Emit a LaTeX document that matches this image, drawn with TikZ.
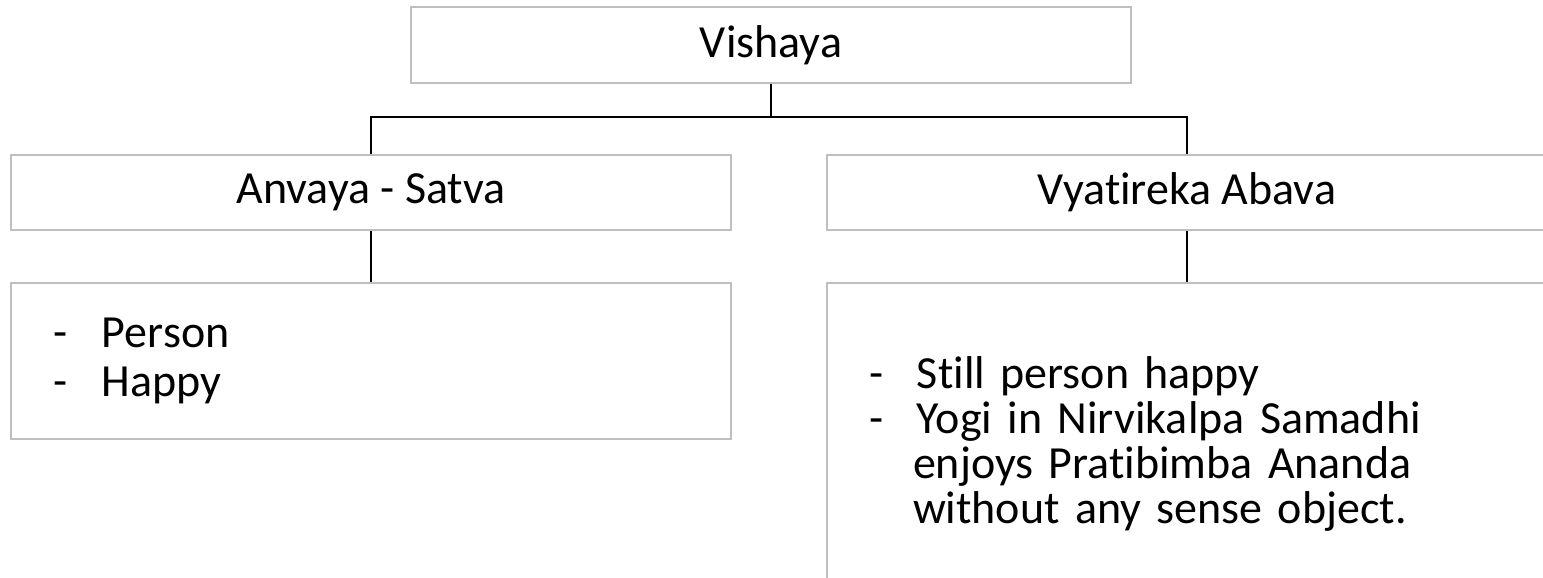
\documentclass[tikz,border=0pt]{standalone}
\usepackage{fontspec}
\setmainfont{Carlito}[Ligatures=NoCommon]
\definecolor{boxgray}{HTML}{BFBFBF}
\tikzset{
  box/.style={draw=boxgray, line width=1.5pt, minimum width=720pt, inner sep=0pt,
    font=\fontsize{46}{45}\selectfont},
  listbox/.style={box, align=left, text width=636pt, inner xsep=42pt},
  link/.style={draw=black, line width=2pt}
}
\begin{document}
\begin{tikzpicture}[x=1pt, y=-1pt]
  \useasboundingbox (0,0) rectangle (1543,578);
  \node[box, minimum height=76pt] (vishaya) at (771,45) {Vishaya};
  \node[box, minimum height=75pt] (anvaya) at (371,192.5) {Anvaya - Satva};
  \node[box, minimum height=75pt] (vyatireka) at (1187,192.5) {Vyatireka Abava};
  % lists
  \node[listbox, minimum height=156pt, font=\fontsize{46}{49}\selectfont] (anvayalist) at (371,361)
    {\makebox[49pt][l]{-}Person\\ \makebox[49pt][l]{-}Happy};
  \node[listbox, minimum height=321pt] (vyatirekalist) at (1187,443.5)
    {\makebox[48pt][l]{-}Still person happy\\
     \makebox[48pt][l]{-}Yogi in Nirvikalpa Samadhi\\
     \hspace*{44pt}enjoys Pratibimba Ananda\\
     \hspace*{44pt}without any sense object.};
  % connectors
  \coordinate (split) at (771,117);
  \draw[link] (vishaya) -- (split);
  \draw[link] (anvaya.north) |- (split) -| (vyatireka.north);
  \draw[link] (anvaya) -- (anvayalist);
  \draw[link] (vyatireka) -- (vyatirekalist);
\end{tikzpicture}
\end{document}
